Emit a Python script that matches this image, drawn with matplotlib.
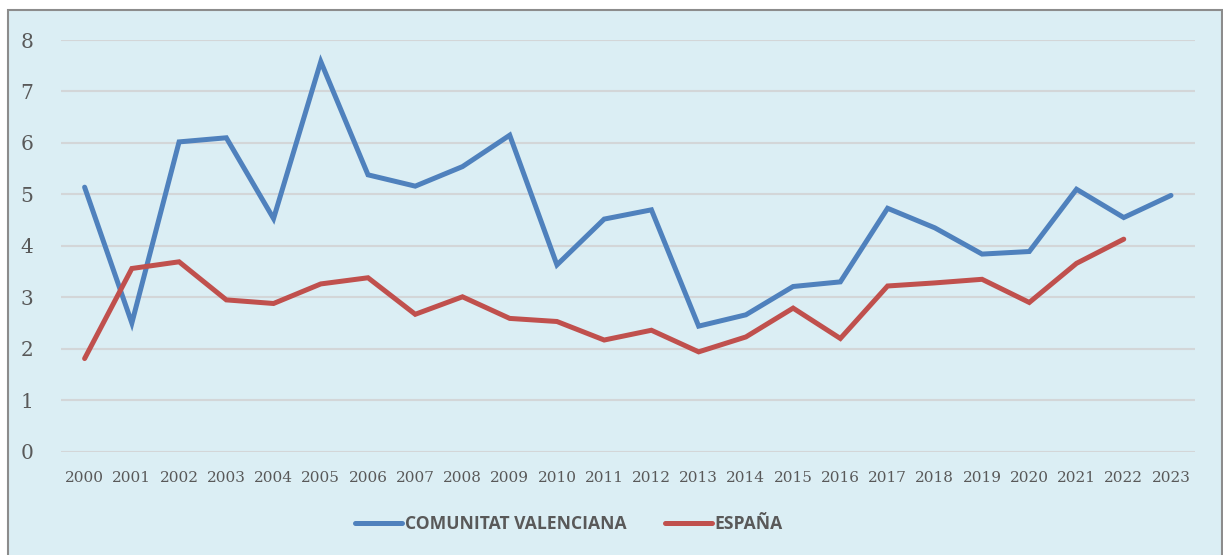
import numpy as np
import matplotlib.pyplot as plt
from matplotlib.patches import Rectangle

# Data
years = [str(y) for y in range(2000, 2024)]
comunitat = [5.14, 2.50, 6.02, 6.10, 4.53, 7.58, 5.38, 5.16, 5.54, 6.15, 3.63, 4.52,
             4.70, 2.44, 2.66, 3.21, 3.30, 4.73, 4.35, 3.84, 3.89, 5.10, 4.55, 4.98]
espana = [1.81, 3.56, 3.69, 2.95, 2.88, 3.26, 3.38, 2.67, 3.01, 2.59, 2.53, 2.17,
          2.36, 1.94, 2.23, 2.79, 2.20, 3.22, 3.28, 3.35, 2.90, 3.66, 4.13]
yticks = [0, 1, 2, 3, 4, 5, 6, 7, 8]

bg = '#DBEEF4'
txt = '#595959'

fig = plt.figure(figsize=(12.23, 5.55), dpi=100)
fig.patch.set_facecolor('white')

# Chart area frame
fig.patches.append(Rectangle((8/1223, -0.01), 1214/1223, (555-10)/555 + 0.01,
                             transform=fig.transFigure, facecolor=bg,
                             edgecolor='#8C8C8C', linewidth=1.5, zorder=-5))

ax = fig.add_axes([61/1223, 103.3/555, (1194.6-61)/1223, (451.7-40)/555])
ax.set_facecolor('none')
ax.set_zorder(2)

x = np.arange(len(years))
l1, = ax.plot(x, comunitat, color='#4F81BD', linewidth=3.6,
              solid_capstyle='round', solid_joinstyle='miter', label='COMUNITAT VALENCIANA')
l2, = ax.plot(x[:len(espana)], espana, color='#C0504D', linewidth=3.6,
              solid_capstyle='round', solid_joinstyle='miter', label='ESPAÑA')

ax.set_xlim(-0.5, len(years) - 0.5)
ax.set_ylim(0, 8)
ax.set_yticks(yticks)
ax.set_xticks(x)
ax.set_xticklabels(years)
ax.grid(axis='y', color='#D3D6D8', linewidth=1.5)
ax.set_axisbelow(True)
for s in ax.spines.values():
    s.set_visible(False)
ax.tick_params(axis='both', length=0)
ax.tick_params(axis='y', labelsize=14.5, labelcolor=txt, pad=20)
ax.tick_params(axis='x', labelsize=11, labelcolor=txt, pad=14)
for lab in ax.get_xticklabels() + ax.get_yticklabels():
    lab.set_fontfamily('DejaVu Serif')

leg = fig.legend(handles=[l1, l2], loc='center', bbox_to_anchor=(569/1223, 1 - 524/555),
                 ncol=2, frameon=False, handlelength=2.7, handletextpad=0.15,
                 columnspacing=2.2, prop={'family': 'Open Sans', 'weight': 'bold', 'size': 12.6})
for t in leg.get_texts():
    t.set_color(txt)

fig.savefig('out.png', dpi=100, facecolor='white')
